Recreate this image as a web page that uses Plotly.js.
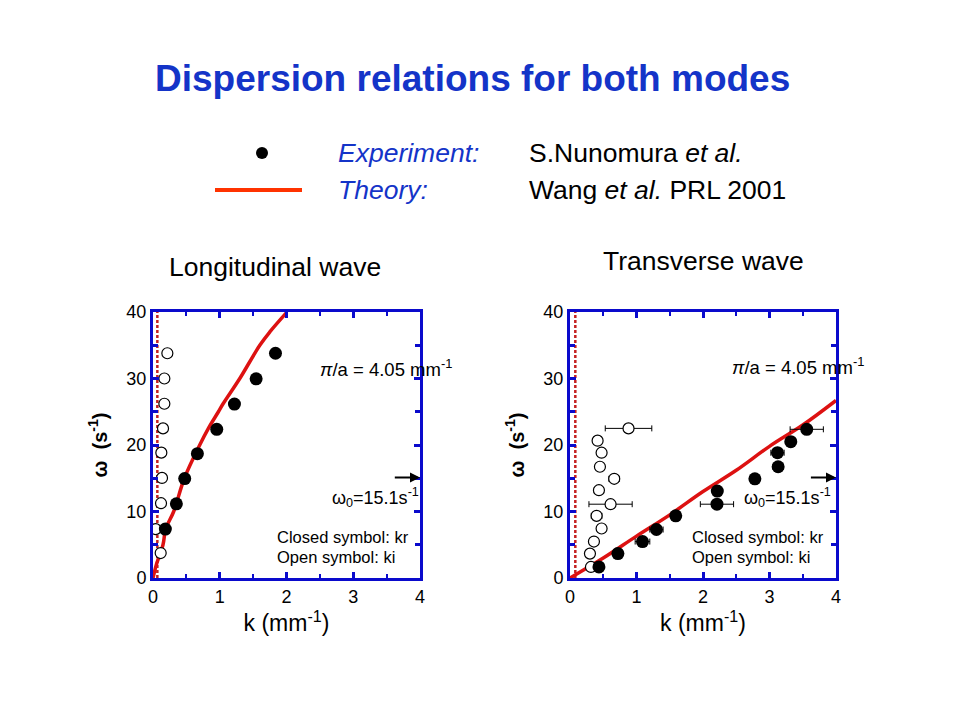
<!DOCTYPE html>
<html>
<head>
<meta charset="utf-8">
<script src="https://cdn.plot.ly/plotly-3.0.1.min.js"></script>
<style>html,body{margin:0;padding:0;background:#fff;}#chart{width:960px;height:720px;}</style>
</head>
<body>
<div id="chart"></div>
<script>
// ---- Longitudinal wave data ----
const longClosedK = [0.185, 0.35, 0.475, 0.665, 0.955, 1.22, 1.545, 1.835];
const longClosedW = [7.35, 11.15, 14.95, 18.7, 22.35, 26.15, 29.95, 33.8];
const longOpenK = [0.215, 0.17, 0.17, 0.15, 0.125, 0.135, 0.12, 0.04, 0.115];
const longOpenW = [33.8, 30.0, 26.2, 22.5, 18.85, 15.05, 11.25, 7.35, 3.75];
const longTheoryK = [0, 0.05, 0.15, 0.19, 0.31, 0.47, 0.7, 0.83, 0.98, 1.05, 1.3, 1.6, 1.75, 2.0];
const longTheoryW = [0, 2, 5, 7.35, 10, 15, 20, 22.5, 25, 26.2, 30, 35, 37, 39.9];
const longCutoffK = [0.065, 0.065];
const longCutoffW = [0, 40];

// ---- Transverse wave data ----
const transClosedK = [0.435, 0.72, 1.09, 1.30, 1.59, 2.21, 2.215, 2.78, 3.13, 3.12, 3.32, 3.56];
const transClosedW = [1.66, 3.67, 5.48, 7.29, 9.35, 11.1, 13.07, 14.92, 16.73, 18.84, 20.5, 22.36];
const transClosedErr = [0, 0, 0.11, 0.1, 0, 0.25, 0, 0.06, 0.08, 0.1, 0, 0.25];
const transOpenK = [0.315, 0.30, 0.36, 0.475, 0.40, 0.61, 0.435, 0.665, 0.45, 0.475, 0.415, 0.88];
const transOpenW = [1.66, 3.67, 5.48, 7.44, 9.35, 11.1, 13.2, 14.92, 16.73, 18.84, 20.65, 22.5];
const transOpenErr = [0, 0, 0, 0, 0.08, 0.325, 0.07, 0.08, 0.05, 0, 0, 0.35];
const transTheoryK = [0, 0.5, 1.0, 1.5, 2.0, 2.5, 3.0, 3.5, 4.0];
const transTheoryW = [0, 3.0, 6.3, 9.5, 13.0, 16.2, 19.8, 23.0, 26.7];
const transCutoffK = [0.08, 0.08];
const transCutoffW = [0, 40];

// ---- Axis ticks ----
const xTicks = [0, 1, 2, 3, 4];
const yTicks = [0, 10, 20, 30, 40];
const piOverA = 4.05;
const omega0 = 15.1;

const FONT = 'Arial, "Liberation Sans", sans-serif';
const BLUE = '#0a0acc';
const RED = '#dd1111';

const px = x => x / 960;
const py = y => 1 - y / 720;

function panelTraces(xa, ya, cK, cW, cE, oK, oW, oE, tK, tW, dK, dW) {
  return [
    {x: dK, y: dW, xaxis: xa, yaxis: ya, mode: 'lines', line: {color: '#c42020', width: 2.5, dash: '3px,2px'}, hoverinfo: 'skip'},
    {x: tK, y: tW, xaxis: xa, yaxis: ya, mode: 'lines', line: {color: RED, width: 3.5, shape: 'spline'}},
    {x: oK, y: oW, xaxis: xa, yaxis: ya, mode: 'markers',
     marker: {symbol: 'circle', size: 11, color: '#fff', line: {color: '#000', width: 1.2}},
     error_x: oE ? {type: 'data', array: oE, visible: true, color: '#000', thickness: 1, width: 3} : undefined},
    {x: cK, y: cW, xaxis: xa, yaxis: ya, mode: 'markers',
     marker: {symbol: 'circle', size: 13, color: '#000'},
     error_x: cE ? {type: 'data', array: cE, visible: true, color: '#000', thickness: 1, width: 3} : undefined}
  ];
}

const data = [].concat(
  panelTraces('x', 'y', longClosedK, longClosedW, null, longOpenK, longOpenW, null, longTheoryK, longTheoryW, longCutoffK, longCutoffW),
  panelTraces('x2', 'y2', transClosedK, transClosedW, transClosedErr, transOpenK, transOpenW, transOpenErr, transTheoryK, transTheoryW, transCutoffK, transCutoffW)
);

function xAxis(dom, anchor) {
  return {
    domain: dom, anchor: anchor, range: [0, 4], tickvals: xTicks, ticktext: xTicks.map(String),
    showline: true, linecolor: BLUE, linewidth: 3, mirror: 'allticks',
    ticks: 'inside', ticklen: 6, tickwidth: 3, tickcolor: BLUE,
    minor: {dtick: 0.5, tick0: 0, ticks: 'inside', ticklen: 4, tickwidth: 2, tickcolor: BLUE},
    showgrid: false, zeroline: false, tickfont: {family: FONT, size: 18, color: '#000'},
    title: {text: 'k (mm<sup>-1</sup>)', font: {family: FONT, size: 23, color: '#000'}, standoff: 4}
  };
}
function yAxis(dom, anchor) {
  return {
    domain: dom, anchor: anchor, range: [0, 40], tickvals: yTicks, ticktext: yTicks.map(String),
    showline: true, linecolor: BLUE, linewidth: 3, mirror: 'allticks',
    ticks: 'inside', ticklen: 6, tickwidth: 3, tickcolor: BLUE,
    minor: {dtick: 5, tick0: 0, ticks: 'inside', ticklen: 5, tickwidth: 3, tickcolor: BLUE},
    showgrid: false, zeroline: false, tickfont: {family: FONT, size: 18, color: '#000'},
    title: {text: '<b>ω  (s<sup>-1</sup>)</b>', font: {family: FONT, size: 20, color: '#000'}, standoff: 14}
  };
}

const yDom = [py(578), py(312)];

function panelAnnotations(xr, yr, piX, piY, wX, wY, txtX) {
  const t = [];
  t.push({xref: xr, yref: yr, x: piOverA, y: 39.5, ax: piOverA, ay: 34.5, axref: xr, ayref: yr,
          text: '', showarrow: true, arrowhead: 2, arrowsize: 1, arrowwidth: 2, arrowcolor: '#000'});
  t.push({xref: xr, yref: yr, x: 4.0, y: omega0, ax: 3.6, ay: omega0, axref: xr, ayref: yr,
          text: '', showarrow: true, arrowhead: 2, arrowsize: 1, arrowwidth: 2, arrowcolor: '#000'});
  t.push({xref: 'paper', yref: 'paper', x: px(piX), y: py(piY), xanchor: 'center', yanchor: 'middle', showarrow: false,
          text: '<i>π</i>/a = 4.05 mm<sup>-1</sup>', font: {family: FONT, size: 18.5, color: '#000'}});
  t.push({xref: 'paper', yref: 'paper', x: px(wX), y: py(wY), xanchor: 'center', yanchor: 'middle', showarrow: false,
          text: 'ω<sub>0</sub>=15.1s<sup>-1</sup>', font: {family: FONT, size: 18, color: '#000'}});
  t.push({xref: 'paper', yref: 'paper', x: px(txtX), y: py(537), xanchor: 'left', yanchor: 'middle', showarrow: false,
          text: 'Closed symbol: kr', font: {family: FONT, size: 16.5, color: '#000'}});
  t.push({xref: 'paper', yref: 'paper', x: px(txtX), y: py(557), xanchor: 'left', yanchor: 'middle', showarrow: false,
          text: 'Open symbol: ki', font: {family: FONT, size: 16.5, color: '#000'}});
  return t;
}

const annotations = [
  {xref: 'paper', yref: 'paper', x: px(472), y: py(78), xanchor: 'center', yanchor: 'middle', showarrow: false,
   text: '<b>Dispersion relations for both modes</b>', font: {family: FONT, size: 37, color: '#1434c8'}},
  {xref: 'paper', yref: 'paper', x: px(336), y: py(153), xanchor: 'left', yanchor: 'middle', showarrow: false,
   text: '<i>Experiment:</i>', font: {family: FONT, size: 26.5, color: '#1434c8'}},
  {xref: 'paper', yref: 'paper', x: px(336), y: py(190), xanchor: 'left', yanchor: 'middle', showarrow: false,
   text: '<i>Theory:</i>', font: {family: FONT, size: 26.5, color: '#1434c8'}},
  {xref: 'paper', yref: 'paper', x: px(527), y: py(153), xanchor: 'left', yanchor: 'middle', showarrow: false,
   text: 'S.Nunomura <i>et al.</i>', font: {family: FONT, size: 26.5, color: '#000'}},
  {xref: 'paper', yref: 'paper', x: px(527), y: py(190), xanchor: 'left', yanchor: 'middle', showarrow: false,
   text: 'Wang <i>et al.</i> PRL 2001', font: {family: FONT, size: 26.5, color: '#000'}},
  {xref: 'paper', yref: 'paper', x: px(167), y: py(267), xanchor: 'left', yanchor: 'middle', showarrow: false,
   text: 'Longitudinal wave', font: {family: FONT, size: 26.5, color: '#000'}},
  {xref: 'paper', yref: 'paper', x: px(601), y: py(261), xanchor: 'left', yanchor: 'middle', showarrow: false,
   text: 'Transverse wave', font: {family: FONT, size: 26.5, color: '#000'}}
].concat(
  panelAnnotations('x', 'y', 386, 368, 375, 497, 275),
  panelAnnotations('x2', 'y2', 798, 366, 787, 497, 690)
);

const shapes = [
  {type: 'circle', xref: 'paper', yref: 'paper', x0: px(256), x1: px(268), y0: py(159), y1: py(147),
   fillcolor: '#000', line: {color: '#000', width: 0}},
  {type: 'line', xref: 'paper', yref: 'paper', x0: px(215), x1: px(302), y0: py(190), y1: py(190),
   line: {color: '#ff3300', width: 4}}
];

const layout = {
  width: 960, height: 720,
  margin: {l: 0, r: 0, t: 0, b: 0},
  paper_bgcolor: '#fff', plot_bgcolor: '#fff',
  showlegend: false,
  xaxis: xAxis([px(153), px(420)], 'y'),
  yaxis: yAxis(yDom, 'x'),
  xaxis2: xAxis([px(570), px(836)], 'y2'),
  yaxis2: yAxis(yDom, 'x2'),
  annotations: annotations,
  shapes: shapes
};

Plotly.newPlot('chart', data, layout, {displayModeBar: false, staticPlot: true});
</script>
</body>
</html>
